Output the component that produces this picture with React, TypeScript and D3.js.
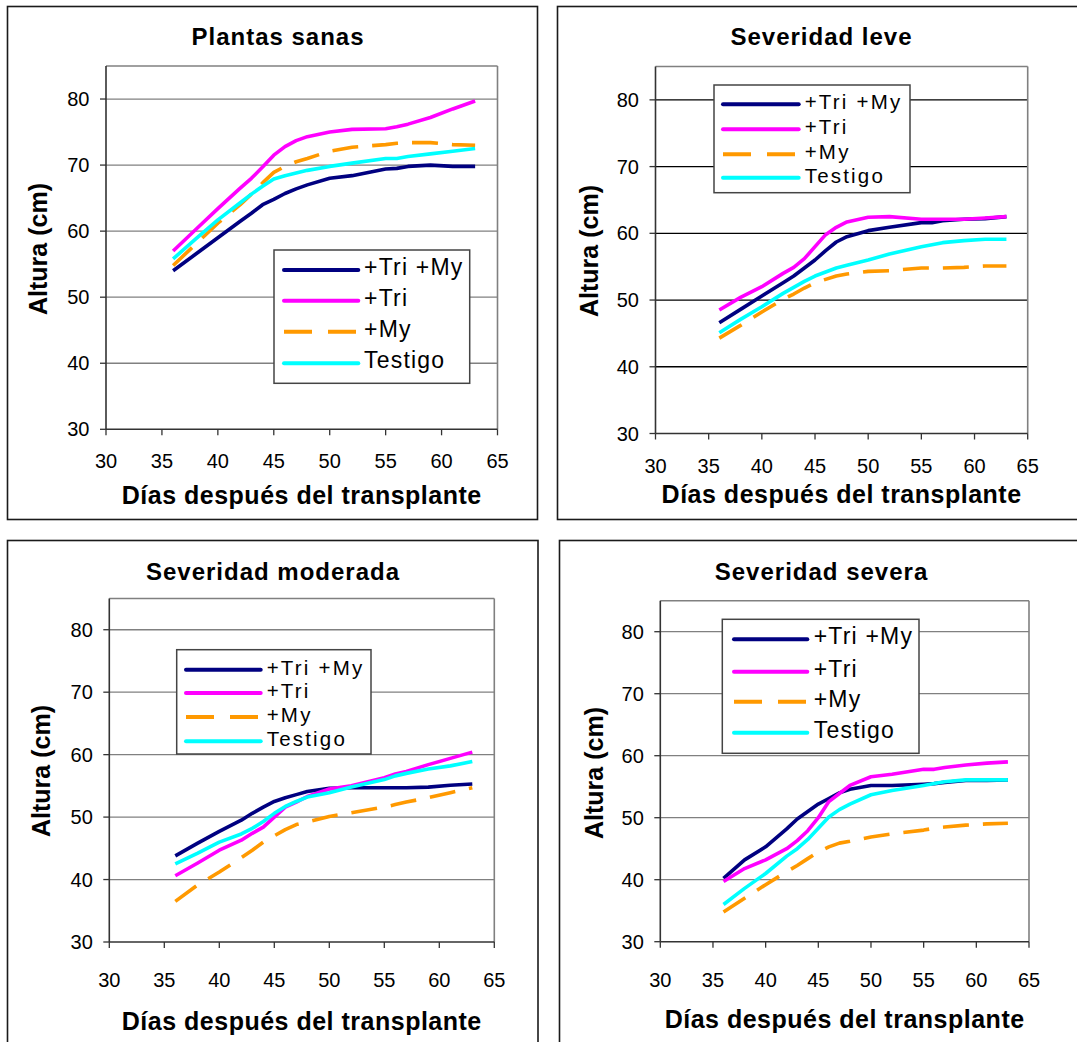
import React from "react";
import * as d3 from "d3";

// ---- Data ----
const days = [36, 38, 40, 42, 43, 44, 45, 46, 47, 48, 50, 52, 55, 56, 57, 59, 61, 63];
const seriesNames = ["+Tri +My", "+Tri", "+My", "Testigo"];
const seriesColors = ["#000080", "#FF00FF", "#FF9900", "#00FFFF"];
const panelTitles = ["Plantas sanas", "Severidad leve", "Severidad moderada", "Severidad severa"];
const xTicks = [30, 35, 40, 45, 50, 55, 60, 65];
const yTicks = [30, 40, 50, 60, 70, 80];
const xTitle = "Días después del transplante";
const yTitle = "Altura (cm)";

// Plantas sanas
const sanasTriMy = [54.0, 56.5, 59.0, 61.5, 62.7, 64.0, 64.8, 65.7, 66.4, 67.0, 68.0, 68.4, 69.4, 69.5, 69.8, 70.0, 69.8, 69.8];
const sanasTri = [57.0, 60.2, 63.4, 66.5, 68.0, 69.7, 71.5, 72.8, 73.7, 74.3, 75.0, 75.4, 75.5, 75.8, 76.2, 77.2, 78.5, 79.7];
const sanasMy = [54.8, 58.0, 61.2, 64.0, 65.6, 67.3, 68.9, 69.8, 70.5, 71.0, 72.1, 72.7, 73.1, 73.3, 73.4, 73.4, 73.1, 73.0];
const sanasTestigo = [55.8, 58.8, 61.7, 64.3, 65.6, 66.8, 67.9, 68.4, 68.8, 69.2, 69.8, 70.3, 71.0, 71.0, 71.3, 71.7, 72.1, 72.5];

// Severidad leve
const leveTriMy = [46.6, 48.6, 50.6, 52.6, 53.6, 54.8, 56.0, 57.4, 58.7, 59.5, 60.4, 60.9, 61.6, 61.6, 61.9, 62.1, 62.2, 62.5];
const leveTri = [48.5, 50.4, 52.0, 54.0, 54.9, 56.2, 58.0, 59.8, 60.9, 61.7, 62.4, 62.5, 62.1, 62.1, 62.1, 62.1, 62.3, 62.5];
const leveMy = [44.3, 46.2, 48.2, 50.1, 50.9, 51.8, 52.6, 53.1, 53.6, 53.9, 54.3, 54.4, 54.8, 54.8, 54.8, 54.9, 55.1, 55.1];
const leveTestigo = [45.1, 47.1, 49.0, 51.0, 51.9, 52.8, 53.6, 54.2, 54.8, 55.2, 56.0, 56.9, 58.0, 58.3, 58.6, 58.9, 59.1, 59.1];

// Severidad moderada
const moderadaTriMy = [43.8, 45.8, 47.7, 49.5, 50.6, 51.6, 52.5, 53.1, 53.6, 54.1, 54.6, 54.7, 54.7, 54.7, 54.7, 54.8, 55.1, 55.3];
const moderadaTri = [40.6, 42.6, 44.7, 46.3, 47.4, 48.4, 50.0, 51.6, 52.4, 53.3, 54.5, 55.0, 56.3, 56.9, 57.3, 58.4, 59.4, 60.4];
const moderadaMy = [36.5, 39.1, 41.2, 43.5, 44.7, 46.0, 47.0, 48.0, 48.8, 49.2, 50.1, 50.7, 51.6, 52.0, 52.4, 53.1, 53.9, 54.7];
const moderadaTestigo = [42.5, 44.2, 46.0, 47.3, 48.2, 49.3, 50.6, 51.7, 52.5, 53.2, 53.9, 54.8, 56.0, 56.6, 57.0, 57.7, 58.2, 58.9];

// Severidad severa
const severaTriMy = [40.2, 43.2, 45.3, 48.2, 49.8, 51.0, 52.2, 53.1, 54.0, 54.6, 55.2, 55.2, 55.4, 55.5, 55.7, 56.0, 56.0, 56.1];
const severaTri = [39.7, 41.8, 43.2, 45.0, 46.3, 47.9, 50.0, 52.6, 53.9, 55.2, 56.6, 57.0, 57.8, 57.8, 58.1, 58.5, 58.8, 59.0];
const severaMy = [34.8, 37.0, 39.2, 41.3, 42.3, 43.4, 44.5, 45.3, 45.9, 46.2, 46.9, 47.4, 48.0, 48.3, 48.5, 48.8, 49.0, 49.1];
const severaTestigo = [36.0, 38.6, 41.0, 43.8, 45.0, 46.5, 48.3, 50.1, 51.3, 52.2, 53.7, 54.4, 55.2, 55.5, 55.8, 56.1, 56.1, 56.1];

const panelData = [
  [sanasTriMy, sanasTri, sanasMy, sanasTestigo],
  [leveTriMy, leveTri, leveMy, leveTestigo],
  [moderadaTriMy, moderadaTri, moderadaMy, moderadaTestigo],
  [severaTriMy, severaTri, severaMy, severaTestigo],
];

// ---- Layout ----
const layouts = [
  {
    border: [7.5, 6.5, 530, 513], plot: [106, 497.5, 66, 429.3], titleX: 278, titleY: 45,
    yTitleX: 38, yTitleY: 249, xLabY: 468, xTitleY: 504, grid: "#808080",
    legend: { x: 274, y: 250, w: 195.7, h: 133.3, sx0: 284, sx1: 358.3, tx: 364, rows: [270, 300.7, 331.7, 363.3], fs: 23, ls: 1.2 },
  },
  {
    border: [557.5, 6.5, 540, 513], plot: [655.5, 1027.7, 66.5, 433.5], titleX: 821.5, titleY: 45,
    yTitleX: 589, yTitleY: 251, xLabY: 473, xTitleY: 503, grid: "#000000",
    legend: { x: 714, y: 85, w: 196, h: 107.7, sx0: 723, sx1: 798.7, tx: 804.7, rows: [104.3, 129.3, 154.3, 177.7], fs: 20.5, ls: 2.2 },
  },
  {
    border: [7.5, 540.5, 530.5, 530], plot: [109.3, 494.3, 598.5, 942], titleX: 273, titleY: 580,
    yTitleX: 41, yTitleY: 771, xLabY: 987, xTitleY: 1030, grid: "#808080",
    legend: { x: 176.7, y: 649.7, w: 194.3, h: 104.3, sx0: 186, sx1: 260.7, tx: 266.7, rows: [669.7, 693, 717, 741.3], fs: 20.5, ls: 2.2 },
  },
  {
    border: [559.5, 540.5, 540, 530], plot: [660.3, 1029, 600.7, 941.7], titleX: 821.5, titleY: 580,
    yTitleX: 594, yTitleY: 773, xLabY: 987, xTitleY: 1028, grid: "#808080",
    legend: { x: 722.3, y: 619.3, w: 196.7, h: 134, sx0: 734, sx1: 807.3, tx: 813.7, rows: [639.3, 671.7, 701.7, 732.7], fs: 23, ls: 1.2 },
  },
];

const FONT = "'Liberation Sans', Arial, Helvetica, sans-serif";

function Panel({ idx }: { idx: number }) {
  const L = layouts[idx];
  const [px0, px1, py0, py1] = L.plot;
  const x = d3.scaleLinear().domain([30, 65]).range([px0, px1]);
  const y = d3.scaleLinear().domain([30, 85]).range([py1, py0]);
  const line = d3
    .line<number>()
    .x((_, i) => x(days[i]))
    .y((v) => y(v));
  const series = panelData[idx];
  const [bx, by, bw, bh] = L.border;
  const lg = L.legend;
  return (
    <g>
      <rect x={bx} y={by} width={bw} height={bh} fill="white" stroke="#1a1a1a" strokeWidth={1.6} />
      <text x={L.titleX} y={L.titleY} textAnchor="middle" fontFamily={FONT} fontWeight="bold" fontSize={24} letterSpacing={1}>
        {panelTitles[idx]}
      </text>
      {/* gridlines */}
      {yTicks.filter((t) => t > 30).map((t) => (
        <line key={"g" + t} x1={px0} x2={px1} y1={y(t)} y2={y(t)} stroke={L.grid} strokeWidth={1.3} />
      ))}
      {/* plot frame top/right */}
      <line x1={px0} x2={px1} y1={py0} y2={py0} stroke="#808080" strokeWidth={1.6} />
      <line x1={px1} x2={px1} y1={py0} y2={py1} stroke="#808080" strokeWidth={1.6} />
      {/* axes */}
      <line x1={px0} x2={px0} y1={py0} y2={py1} stroke="#333" strokeWidth={1.6} />
      <line x1={px0} x2={px1} y1={py1} y2={py1} stroke="#333" strokeWidth={1.6} />
      {yTicks.map((t) => (
        <g key={"yt" + t}>
          <line x1={px0 - 6} x2={px0} y1={y(t)} y2={y(t)} stroke="#333" strokeWidth={1.3} />
          <text x={px0 - 16.5} y={y(t) + 7} textAnchor="end" fontFamily={FONT} fontSize={20}>
            {t}
          </text>
        </g>
      ))}
      {xTicks.map((t) => (
        <g key={"xt" + t}>
          <line x1={x(t)} x2={x(t)} y1={py1} y2={py1 + 6} stroke="#333" strokeWidth={1.3} />
          <text x={x(t)} y={L.xLabY} textAnchor="middle" fontFamily={FONT} fontSize={20}>
            {t}
          </text>
        </g>
      ))}
      <text x={(px0 + px1) / 2} y={L.xTitleY} textAnchor="middle" fontFamily={FONT} fontWeight="bold" fontSize={25} letterSpacing={0.5}>
        {xTitle}
      </text>
      <text
        transform={`translate(${L.yTitleX + 9},${L.yTitleY}) rotate(-90)`}
        textAnchor="middle"
        fontFamily={FONT}
        fontWeight="bold"
        fontSize={25}
      >
        {yTitle}
      </text>
      {/* data lines */}
      {series.map((vals, i) => (
        <path
          key={"s" + i}
          d={line(vals) || ""}
          fill="none"
          stroke={seriesColors[i]}
          strokeWidth={3.6}
          strokeDasharray={i === 2 ? "26,14" : undefined}
          strokeLinejoin="round"
        />
      ))}
      {/* legend */}
      <rect x={lg.x} y={lg.y} width={lg.w} height={lg.h} fill="white" stroke="#444" strokeWidth={1.5} />
      {seriesNames.map((name, i) => (
        <g key={"l" + i}>
          <line
            x1={lg.sx0}
            x2={lg.sx1}
            y1={lg.rows[i]}
            y2={lg.rows[i]}
            stroke={seriesColors[i]}
            strokeWidth={4}
            strokeLinecap={i === 2 ? "butt" : "round"}
            strokeDasharray={i === 2 ? "28,16" : undefined}
          />
          <text x={lg.tx} y={lg.rows[i] + 5} fontFamily={FONT} fontSize={lg.fs} letterSpacing={lg.ls}>
            {name}
          </text>
        </g>
      ))}
    </g>
  );
}

export default function App() {
  return (
    <svg
      width={1077}
      height={1042}
      style={{ position: "absolute", left: 0, top: 0, background: "white" }}
    >
      <rect x={0} y={0} width={1077} height={1042} fill="white" />
      {[0, 1, 2, 3].map((i) => (
        <Panel key={i} idx={i} />
      ))}
    </svg>
  );
}
